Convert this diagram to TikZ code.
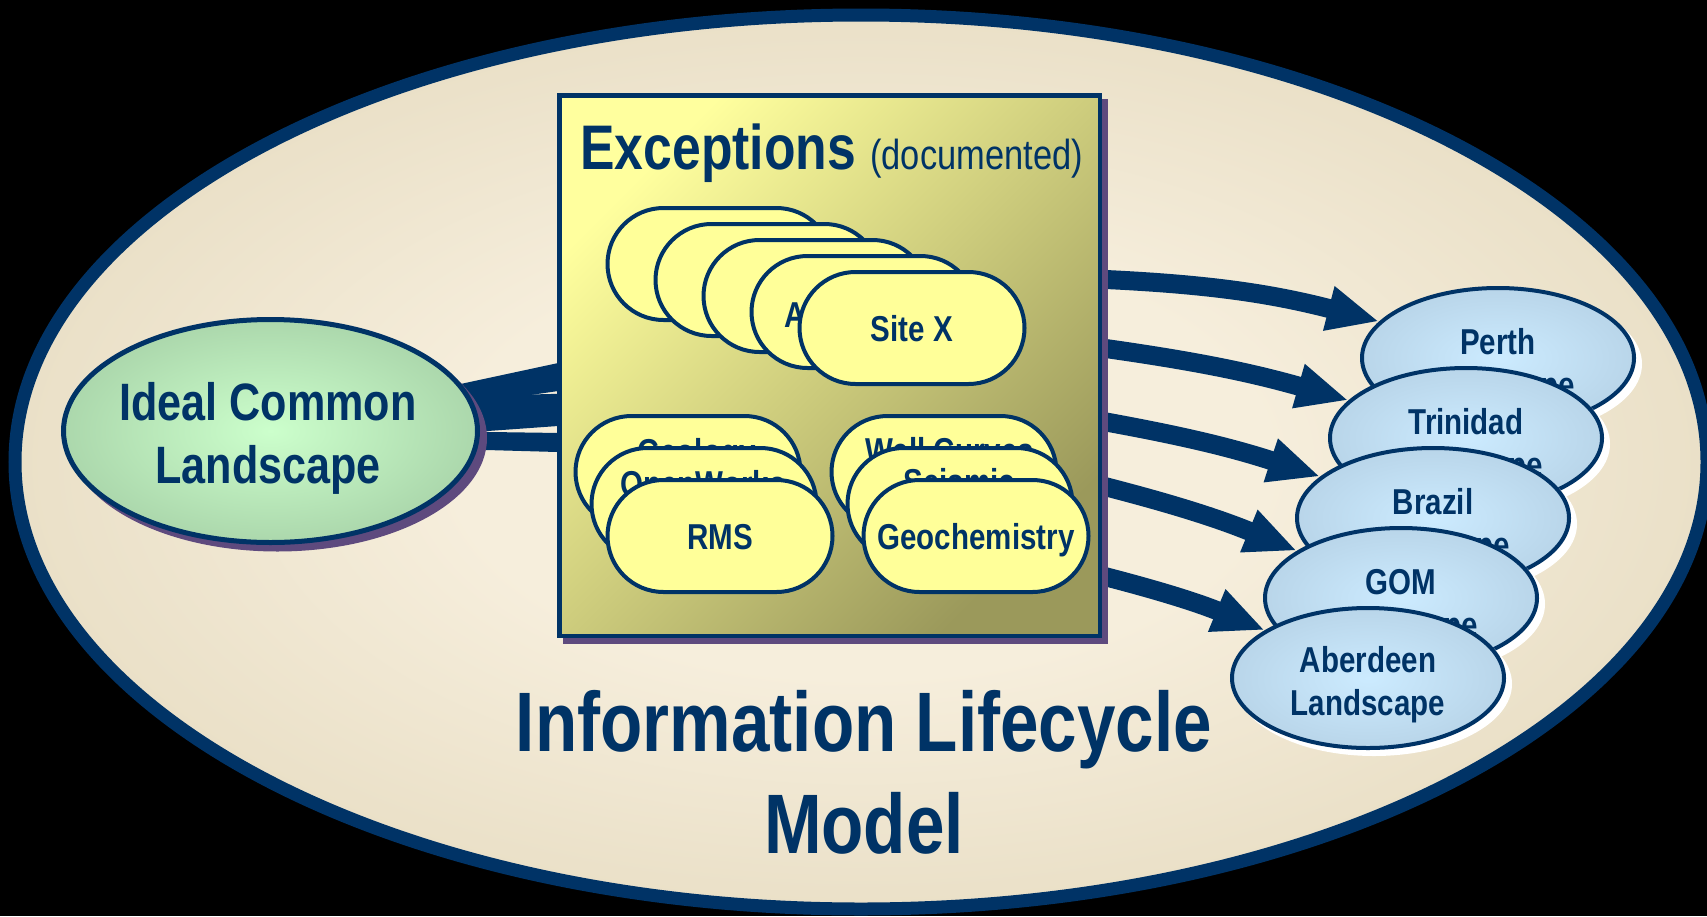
\documentclass[tikz,border=0pt]{standalone}
\usepackage{fontspec}
\setmainfont{Liberation Sans}[FakeStretch=0.82]
\usetikzlibrary{shapes.geometric,shapes.misc,arrows.meta}

% palette
\definecolor{navy}{HTML}{003366}
\definecolor{pillY}{HTML}{FFFF99}
\definecolor{purpleS}{HTML}{5E4A7E}
\definecolor{bgC}{HTML}{F6EEDC}
\definecolor{bgE}{HTML}{D3C5A0}
\definecolor{greenC}{HTML}{CCFFCC}
\definecolor{greenE}{HTML}{8BB08C}
\definecolor{blueC}{HTML}{CCEBFF}
\definecolor{blueE}{HTML}{A6C0D4}
\definecolor{boxA}{HTML}{FFFF9E}
\definecolor{boxB}{HTML}{D6D482}
\definecolor{boxC}{HTML}{9B995B}

% soft radial fills reaching the edge colour at the shape's rim
\pgfdeclareradialshading{bgsh}{\pgfpoint{0bp}{0bp}}{color(0bp)=(bgC); color(12bp)=(bgC); color(50bp)=(bgE); color(100bp)=(bgE)}
\pgfdeclareradialshading{greensh}{\pgfpoint{0bp}{0bp}}{color(0bp)=(greenC); color(50bp)=(greenE); color(100bp)=(greenE)}
\pgfdeclareradialshading{bluesh}{\pgfpoint{0bp}{0bp}}{color(0bp)=(blueC); color(50bp)=(blueE); color(100bp)=(blueE)}

\begin{document}
\begin{tikzpicture}[x=0.5pt,y=0.5pt,
  pill/.style={rounded rectangle, draw=navy, line width=2pt, fill=pillY,
    minimum width=112.5pt, minimum height=56pt, inner sep=0pt,
    text height=13.5pt, text depth=0pt,
    text=navy, font=\bfseries\fontsize{18pt}{21.5pt}\selectfont},
  pilltxt/.style={font=\bfseries\fontsize{18pt}{21.5pt}\selectfont, text=navy,
    inner sep=0pt, anchor=base west},
  blob/.style={ellipse, draw=navy, line width=2pt, shade, shading=bluesh,
    minimum width=136pt, minimum height=70pt, inner sep=0pt},
  blobshadow/.style={ellipse, fill=white, minimum width=138pt, minimum height=72pt, inner sep=0pt},
  blobtxt/.style={font=\bfseries\fontsize{18pt}{21.5pt}\selectfont, text=navy,
    align=center, inner sep=0pt},
  feedarrow/.style={draw=navy, line width=9.5pt, -{Triangle[length=26pt,width=21pt]}},
]
\useasboundingbox (0,0) rectangle (1707,-916);
\fill[black] (0,0) rectangle (1707,-916);

% outer lifecycle ellipse
\draw[line width=6.5pt, draw=navy, shade, shading=bgsh] (861,-462) ellipse [x radius=846, y radius=447];

% feeds from the common landscape into the exceptions box
\fill[navy] (440,-388.4) -- (575,-359.4) -- (575,-388.6) -- (440,-407.9) -- cycle;
\fill[navy] (440,-396.7) -- (575,-393.4) -- (575,-424.8) -- (440,-434.4) -- cycle;
\fill[navy] (440,-431.3) -- (575,-433.2) -- (575,-452.5) -- (440,-448.7) -- cycle;

% ideal common landscape
\node[ellipse, fill=purpleS, minimum width=209.5pt, minimum height=113.5pt, inner sep=0pt] (idealshadow) at (277.5,-438) {};
\node[ellipse, draw=navy, line width=2.5pt, shade, shading=greensh,
  minimum width=207pt, minimum height=111.5pt, inner sep=0pt] (ideal) at (270.5,-431) {};
\node[font=\bfseries\fontsize{26.3pt}{31.5pt}\selectfont, text=navy, align=center, inner sep=0pt]
  (idealtxt) at (268,-438) {Ideal Common\\Landscape};

% regional landscapes
\node[blobshadow] (perthS) at (1504,-364) {};
\node[blob] (perth) at (1498,-358) {};
\node[blobtxt] (perthT) at (1498,-367) {Perth\\Landscape};
\node[blobshadow] (trinS) at (1472,-444) {};
\node[blob] (trin) at (1466,-438) {};
\node[blobtxt] (trinT) at (1466,-447) {Trinidad\\Landscape};
\node[blobshadow] (brazS) at (1439,-524) {};
\node[blob] (braz) at (1433,-518) {};
\node[blobtxt] (brazT) at (1433,-527) {Brazil\\Landscape};
\node[blobshadow] (gomS) at (1407,-604) {};
\node[blob] (gom) at (1401,-598) {};
\node[blobtxt] (gomT) at (1401,-607) {GOM\\Landscape};
\node[blobshadow] (aberS) at (1374,-684) {};
\node[blob] (aber) at (1368,-678) {};
\node[blobtxt] (aberT) at (1368,-685) {Aberdeen\\Landscape};

% roll-out arrows
\coordinate (s1) at (1095,-279);
\coordinate (s2) at (1095,-347);
\coordinate (s3) at (1095,-420);
\coordinate (s4) at (1095,-484);
\coordinate (s5) at (1095,-574);
\draw[feedarrow] (s1) to[bend left=6] (perth);
\draw[feedarrow] (s2) to[bend left=4] (trin);
\draw[feedarrow] (s3) to[bend left=4] (braz);
\draw[feedarrow] (s4) to[bend left=4] (gom);
\draw[feedarrow] (s5) to[bend left=4] (aber);

% exceptions box
\node[rectangle, fill=purpleS, minimum width=272.5pt, minimum height=272.5pt, inner sep=0pt] (boxS) at (835.5,-371.5) {};
\node[rectangle, draw=navy, line width=2.25pt, top color=boxA, middle color=boxB, bottom color=boxC,
  shading angle=45, minimum width=270.25pt, minimum height=270.25pt, inner sep=0pt] (box) at (829.5,-365.5) {};
\node[anchor=base west, inner sep=0pt, text=navy, font=\fontsize{31.5pt}{36pt}\selectfont] (exc) at (580,-169)
  {\bfseries Exceptions {\mdseries\fontsize{21pt}{25pt}\selectfont(documented)}};

% site exceptions
\node[pill] (p1) at (720,-264) {};
\node[pill] (p2) at (768,-280) {};
\node[pill] (p3) at (816,-296) {};
\node[pill] (p4) at (864,-312) {};
\node[pilltxt] (p4t) at (784,-327) {A};
\node[pill] (p5) at (912,-328) {Site X};

% application exceptions
\node[pill] (ga) at (688,-472) {};
\node[pilltxt] (gat) at (637,-464) {Geology};
\node[pill] (gb) at (704,-504) {};
\node[pilltxt] (gbt) at (620,-496) {OpenWorks};
\node[pill] (gc) at (720,-536) {RMS};

% data type exceptions
\node[pill] (wa) at (944,-472) {};
\node[pilltxt] (wat) at (865,-463) {Well Curves};
\node[pill] (wb) at (960,-504) {};
\node[pilltxt] (wbt) at (903,-494) {Seismic};
\node[pill] (wc) at (976,-536) {Geochemistry};

% title
\node[font=\bfseries\fontsize{42.2pt}{51pt}\selectfont, text=navy, align=center, inner sep=0pt]
  (title) at (864,-772) {Information Lifecycle\\Model};
\end{tikzpicture}
\end{document}
